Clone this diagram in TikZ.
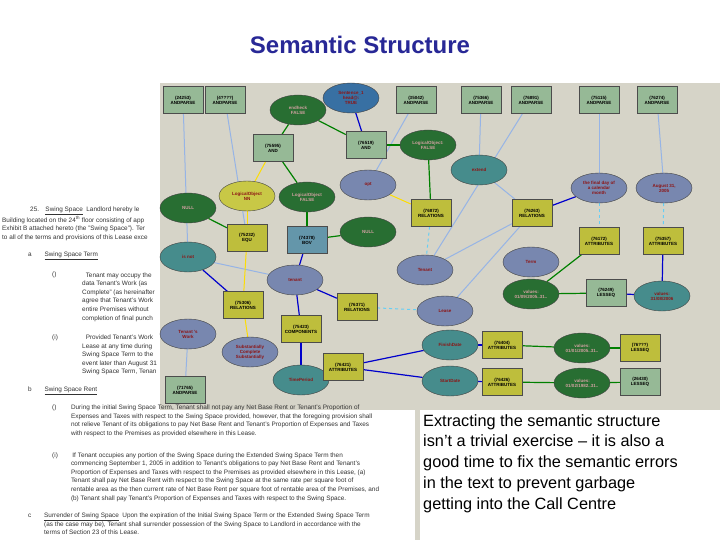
\documentclass[tikz,border=0pt]{standalone}
\usepackage{fontspec}
\setmainfont{Liberation Sans}
\usetikzlibrary{shapes.geometric,arrows.meta,backgrounds}
\pgfdeclarelayer{edges}
\pgfsetlayers{background,edges,main}
\definecolor{titleblue}{RGB}{40,40,150}
\definecolor{panel}{RGB}{214,212,200}
\definecolor{boxg}{RGB}{150,185,150}
\definecolor{olive}{RGB}{190,190,60}
\definecolor{dgreen}{RGB}{40,110,50}
\definecolor{teal}{RGB}{70,140,140}
\definecolor{bgray}{RGB}{120,135,175}
\definecolor{ylw}{RGB}{200,200,70}
\definecolor{bbox}{RGB}{100,150,170}
\definecolor{lblue}{RGB}{150,180,230}
\definecolor{dred}{RGB}{140,20,20}
\tikzset{
 bx/.style={draw=gray!60!black,fill=boxg,minimum width=40pt,minimum height=27pt,font=\fontsize{4.5}{5}\selectfont\bfseries,align=center,inner sep=1pt},
 ob/.style={bx,fill=olive},
 el/.style={ellipse,draw=gray!50!black,minimum width=56pt,minimum height=30pt,font=\fontsize{4.5}{5}\selectfont\bfseries,align=center,inner sep=0pt},
 ge/.style={el,fill=dgreen,text=dred!40!white},
 te/.style={el,fill=teal,text=dred},
 be/.style={el,fill=bgray,text=dred},
 lb/.style={draw=lblue,line width=1pt},
 gl/.style={draw=green!50!black,line width=1.2pt},
 bl/.style={draw=blue!80!black,line width=1.2pt},
 yl/.style={draw=yellow!80!orange,line width=1pt},
 cy/.style={draw=cyan!60,line width=1pt,dashed},
 dt/.style={font=\fontsize{6.4}{8.6}\selectfont,anchor=west,inner sep=0pt,text=black!80},
}
\begin{document}
\begin{tikzpicture}[x=1pt,y=-1pt]
\useasboundingbox (0,0) rectangle (720,540);
\begin{pgfonlayer}{background}
\fill[white] (0,0) rectangle (720,540);
\fill[panel] (160,83) rectangle (720,410);
\fill[panel] (415,410) rectangle (420,540);
\end{pgfonlayer}
\node[font=\bfseries\fontsize{24}{28}\selectfont,text=titleblue] (title) at (360,45) {Semantic Structure};
% left document text
\node[dt] (d1) at (30,211) {25.\quad\underline{Swing Space}\ \ Landlord hereby le};
\node[dt] (d2) at (2,220) {Building located on the 24$^{\mathrm{th}}$ floor consisting of app};
\node[dt] (d3) at (2,229) {Exhibit B attached hereto (the "Swing Space"). Ter};
\node[dt] (d4) at (2,238) {to all of the terms and provisions of this Lease exce};
\node[dt] (d5) at (28,256) {a\qquad\underline{Swing Space Term}};
\node[dt] (d6) at (52,275) {()};
\node[dt,align=left] (d7) at (82,297) {\ \ Tenant may occupy the\\data Tenant's Work (as\\Complete" (as hereinafter\\agree that Tenant's Work\\entire Premises without\\completion of final punch};
\node[dt] (d8) at (52,338) {(i)};
\node[dt,align=left] (d9) at (82,355) {\ \ Provided Tenant's Work\\Lease at any time during\\Swing Space Term to the\\event later than August 31\\Swing Space Term, Tenan};
\node[dt] (d10) at (28,391) {b\qquad\underline{Swing Space Rent}};
\node[dt,align=left] (d11) at (52,421) {()\qquad\ During the initial Swing Space Term, Tenant shall not pay any Net Base Rent or Tenant's Proportion of\\\phantom{()}\qquad\ Expenses and Taxes with respect to the Swing Space provided, however, that the foregoing provision shall\\\phantom{()}\qquad\ not relieve Tenant of its obligations to pay Net Base Rent and Tenant's Proportion of Expenses and Taxes\\\phantom{()}\qquad\ with respect to the Premises as provided elsewhere in this Lease.};
\node[dt,align=left] (d12) at (52,477) {(i)\qquad\ If Tenant occupies any portion of the Swing Space during the Extended Swing Space Term then\\\phantom{()}\qquad\ commencing September 1, 2005 in addition to Tenant's obligations to pay Net Base Rent and Tenant's\\\phantom{()}\qquad\ Proportion of Expenses and Taxes with respect to the Premises as provided elsewhere in this Lease, (a)\\\phantom{()}\qquad\ Tenant shall pay Net Base Rent with respect to the Swing Space at the same rate per square foot of\\\phantom{()}\qquad\ rentable area as the then current rate of Net Base Rent per square foot of rentable area of the Premises, and\\\phantom{()}\qquad\ (b) Tenant shall pay Tenant's Proportion of Expenses and Taxes with respect to the Swing Space.};
\node[dt,align=left] (d13) at (28,524) {c\qquad\underline{Surrender of Swing Space}\ \ Upon the expiration of the Initial Swing Space Term or the Extended Swing Space Term\\\phantom{c}\qquad(as the case may be), Tenant shall surrender possession of the Swing Space to Landlord in accordance with the\\\phantom{c}\qquad terms of Section 23 of this Lease.};
% nodes
\node[bx] (a1) at (183,100) {(24253)\\ANDPARSE};
\node[bx] (a2) at (225,100) {(4????)\\ANDPARSE};
\node[bx] (a3) at (416,100) {(35042)\\ANDPARSE};
\node[bx] (a4) at (481,100) {(75366)\\ANDPARSE};
\node[bx] (a5) at (531,100) {(76891)\\ANDPARSE};
\node[bx] (a6) at (599,100) {(75115)\\ANDPARSE};
\node[bx] (a7) at (657,100) {(76274)\\ANDPARSE};
\node[te,fill=teal!80!blue] (s1) at (351,98) {Sentence\_1\\head@:\\TRUE};
\node[ge] (eh) at (298,110) {endheck\\FALSE};
\node[bx] (and1) at (366,145) {(76519)\\AND};
\node[bx] (and2) at (273,148) {(75595)\\AND};
\node[ge] (lo1) at (428,145) {LogicalObject:\\FALSE};
\node[be] (opt) at (368,185) {opt};
\node[te,text=dred] (ext) at (479,170) {extend};
\node[be] (fd) at (599,188) {the final day of\\a calendar\\month};
\node[be] (au) at (664,188) {August 31,\\2005};
\node[el,fill=ylw,text=dred] (lnn) at (247,196) {LogicalObject\\NN};
\node[ge] (lo2) at (307,197) {LogicalObject\\FALSE};
\node[ge] (nu1) at (188,208) {NULL};
\node[ob] (r1) at (431,213) {(76872)\\RELATIONS};
\node[ob] (r2) at (532,213) {(76263)\\RELATIONS};
\node[ob] (at1) at (599,241) {(76172)\\ATTRIBUTES};
\node[ob] (at2) at (663,241) {(75357)\\ATTRIBUTES};
\node[ob] (eq) at (247,238) {(75232)\\EQU};
\node[bx,fill=bbox] (bov) at (307,240) {(74378)\\BOV};
\node[ge] (nu2) at (368,232) {NULL};
\node[te] (isn) at (188,257) {is not};
\node[be] (ten) at (425,270) {Tenant};
\node[be] (term) at (531,262) {Term};
\node[be] (tn2) at (295,280) {tenant};
\node[ob] (r3) at (243,305) {(75306)\\RELATIONS};
\node[ob] (r4) at (357,307) {(76371)\\RELATIONS};
\node[be] (lea) at (445,311) {Lease};
\node[ge] (v1) at (531,294) {values:\\01/09/2005..31..};
\node[bx] (le1) at (606,293) {(76249)\\LESSEQ};
\node[te] (v2) at (662,296) {values:\\31/08/2006};
\node[be] (tw) at (188,334) {Tenant 's\\Work};
\node[ob] (cmp) at (301,329) {(75423)\\COMPONENTS};
\node[be] (sub) at (250,352) {Substantially\\Complete\\Substantially};
\node[te] (fin) at (450,345) {FinishDate};
\node[ob] (at3) at (502,345) {(76404)\\ATTRIBUTES};
\node[ge] (v3) at (582,348) {values:\\01/01/2005..31..};
\node[ob] (le2) at (640,348) {(76???)\\LESSEQ};
\node[bx] (ap8) at (185,390) {(71765)\\ANDPARSE};
\node[te] (tp) at (301,380) {TimePeriod};
\node[ob] (at4) at (343,367) {(76421)\\ATTRIBUTES};
\node[te] (st) at (450,381) {StartDate};
\node[ob] (at5) at (502,382) {(76426)\\ATTRIBUTES};
\node[ge] (v4) at (582,383) {values:\\01/02/1982..31..};
\node[bx] (le3) at (640,382) {(26430)\\LESSEQ};
\begin{pgfonlayer}{edges}
\draw[lb] (a1) -- (isn);
\draw[lb] (a2) -- (eq);
\draw[lb] (a3) -- (opt);
\draw[lb] (a4) -- (ext);
\draw[lb] (a5) -- (ten);
\draw[lb] (a6) -- (fd);
\draw[lb] (a7) -- (au);
\draw[lb] (ten) -- (r2);
\draw[lb] (lea) -- (r2);
\draw[lb] (ext) -- (r2);
\draw[lb] (isn) -- (tn2);
\draw[lb] (tw) -- (ap8);
\draw[bl] (s1) -- (and1);
\draw[gl] (eh) -- (and1);
\draw[gl] (eh) -- (and2);
\draw[gl] (lo1) -- (and1);
\draw[gl] (lo1) -- (r1);
\draw[gl] (lo2) -- (and2);
\draw[gl] (lo2) -- (bov);
\draw[gl] (nu1) -- (eq);
\draw[gl] (nu2) -- (bov);
\draw[yl] (and2) -- (lnn);
\draw[yl] (lnn) -- (eq);
\draw[yl] (eq) -- (r3);
\draw[yl] (r3) -- (sub);
\draw[yl] (opt) -- (r1);
\draw[cy] (r1) -- (ten);
\draw[cy] (r4) -- (lea);
\draw[cy] (fd) -- (at1);
\draw[cy] (au) -- (at2);
\draw[bl] (r2) -- (fd);
\draw[bl] (bov) -- (tn2);
\draw[bl] (tn2) -- (r4);
\draw[bl] (tn2) -- (cmp);
\draw[bl] (cmp) -- (tp);
\draw[bl] (tp) -- (at4);
\draw[bl] (at4) -- (fin);
\draw[bl] (at4) -- (st);
\draw[bl] (fin) -- (at3);
\draw[bl] (st) -- (at5);
\draw[bl] (at2) -- (v2);
\draw[bl] (isn) -- (r3);
\draw[gl] (v1) -- (at1);
\draw[gl] (v1) -- (le1);
\draw[bl] (v2) -- (le1);
\draw[gl] (at3) -- (v3);
\draw[gl] (v3) -- (le2);
\draw[gl] (at5) -- (v4);
\draw[gl] (v4) -- (le3);
\end{pgfonlayer}
\node[align=left,anchor=north west,font=\fontsize{16.3}{20.8}\selectfont,text=black,inner sep=0pt] (tx) at (423,414) {Extracting the semantic structure\\isn't a trivial exercise -- it is also a\\good time to fix the semantic errors\\in the text to prevent garbage\\getting into the Call Centre};
\end{tikzpicture}
\end{document}
